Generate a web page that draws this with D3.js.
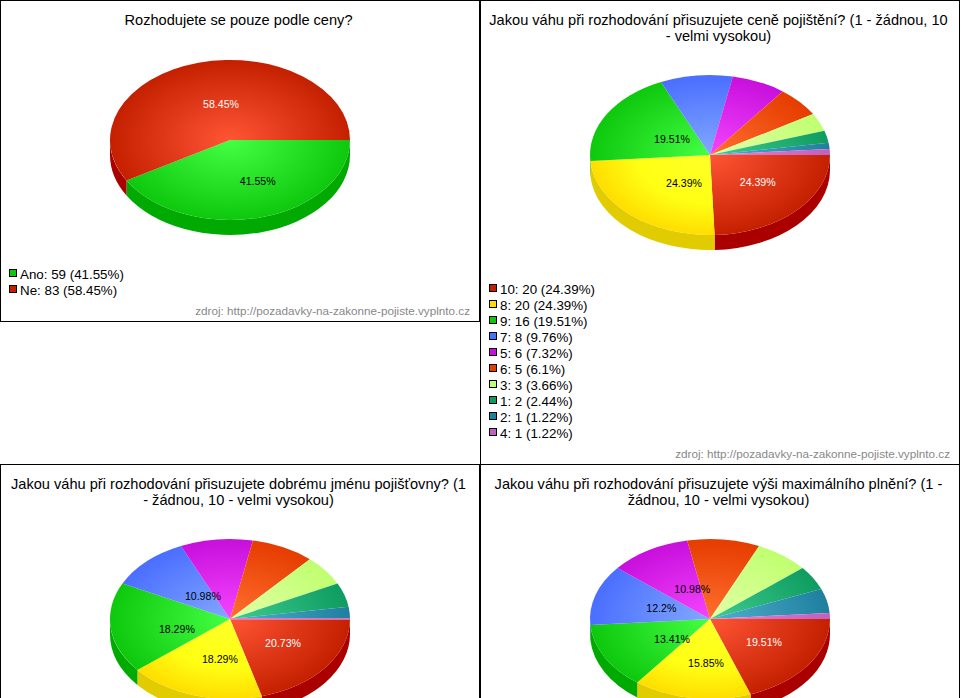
<!DOCTYPE html>
<html><head><meta charset="utf-8">
<script src="https://cdnjs.cloudflare.com/ajax/libs/d3/7.8.5/d3.min.js"></script>
<style>html,body{margin:0;padding:0;background:#fff;overflow:hidden}svg{display:block}
text{font-family:"Liberation Sans",Arial,sans-serif}</style></head><body>
<script>
const titles = [
  ["Rozhodujete se pouze podle ceny?"],
  ["Jakou váhu při rozhodování přisuzujete ceně pojištění? (1 - žádnou, 10", "- velmi vysokou)"],
  ["Jakou váhu při rozhodování přisuzujete dobrému jménu pojišťovny? (1", "- žádnou, 10 - velmi vysokou)"],
  ["Jakou váhu při rozhodování přisuzujete výši maximálního plnění? (1 -", "žádnou, 10 - velmi vysokou)"]
];
const binaryCategories = ["Ano", "Ne"];
const binaryValues = [59, 83];
const priceCategories = ["10", "8", "9", "7", "5", "6", "3", "1", "2", "4"];
const priceValues = [20, 20, 16, 8, 6, 5, 3, 2, 1, 1];
const reputationValues = [17, 15, 15, 9, 8, 7, 5, 4, 2, 0];
const maximumValues = [16, 13, 11, 10, 9, 8, 6, 4, 4, 1];
const sourceText = "zdroj: http://pozadavky-na-zakonne-pojiste.vyplnto.cz";

const scalePalette = [
  ["#ff5535", "#c42000", "#aa0000"], ["#ffff28", "#ffdd00", "#e0cc00"], ["#44ff44", "#0ec80e", "#00aa00"],
  ["#82a8ff", "#4a6eff", "#3050cc"], ["#f545ff", "#c80fdc", "#9000aa"], ["#ff7030", "#e63c00", "#b03000"],
  ["#e2ffa8", "#c0ff70", "#90cc50"], ["#40cc90", "#0e9c60", "#007040"], ["#50b0cc", "#1f7f9f", "#106080"],
  ["#f080d0", "#c060c0", "#904090"]
];
const binaryPalette = [scalePalette[2], scalePalette[0]];

const W = 962, H = 698, RX = 120, RY = 80, DEPTH = 15;
const svg = d3.select("body").append("svg").attr("width", W).attr("height", H);
const defs = svg.append("defs");
const pct = v => String(+v.toFixed(2)) + "%";

// fine adjustments of value labels relative to their polar position
const labelNudges = [
  [[14.6, 2.9], [4.1, 2.6]],
  [[11.7, -0.6], [7.3, -0.9], [5, 5]],
  [[13.3, 0.3], [5, 2.4], [-3.5, 5.9], [7.5, 6.8]],
  [[13.1, 0], [3.7, 4.5], [5.9, 0.9], [-1, 2], [7.8, 5.3]]
];
const panels = [
  {x: 0, y: 0, w: 480, h: 322, cy: 140, values: binaryValues, cats: binaryCategories, pal: binaryPalette, legendY: 274},
  {x: 480, y: 0, w: 480, h: 465, cy: 155, values: priceValues, cats: priceCategories, pal: scalePalette, legendY: 289},
  {x: 0, y: 464, w: 480, h: 400, cy: 155, values: reputationValues, pal: scalePalette},
  {x: 480, y: 464, w: 480, h: 400, cy: 155, values: maximumValues, pal: scalePalette}
];
const pie = d3.pie().sort(null).startAngle(Math.PI / 2).endAngle(Math.PI * 2.5);
const arc = d3.arc().innerRadius(0).outerRadius(RX);
const sx = d3.scaleLinear().domain([-1, 1]).range([-RX, RX]);
const sy = d3.scaleLinear().domain([-1, 1]).range([-RY, RY]);

panels.forEach((p, pi) => {
  const g = svg.append("g").attr("transform", `translate(${p.x},${p.y})`);
  g.append("rect").attr("x", .5).attr("y", .5).attr("width", p.w - 1).attr("height", p.h - 1)
    .attr("fill", "#fff").attr("stroke", "#000");
  titles[pi].forEach((t, i) => g.append("text").attr("x", 238.5).attr("y", 25 + i * 16)
    .attr("text-anchor", "middle").attr("font-size", 14.6).attr("fill", "#000").text(t));
  const cx = 230, total = d3.sum(p.values);
  const arcs = pie(p.values);
  const pieG = g.append("g").attr("transform", `translate(${cx},${p.cy})`);
  // side wall: front half only (screen angles 0..pi)
  arcs.forEach((d, i) => {
    const a0 = Math.max(d.startAngle - Math.PI / 2, 0), a1 = Math.min(d.endAngle - Math.PI / 2, Math.PI);
    if (a1 <= a0) return;
    const x0 = sx(Math.cos(a0)), y0 = sy(Math.sin(a0)), x1 = sx(Math.cos(a1)), y1 = sy(Math.sin(a1));
    pieG.append("path").attr("fill", p.pal[i][2])
      .attr("d", `M${x0},${y0}A${RX},${RY} 0 0 1 ${x1},${y1}L${x1},${y1 + DEPTH}A${RX},${RY} 0 0 0 ${x0},${y0 + DEPTH}Z`);
  });
  const top = pieG.append("g").attr("transform", `scale(1,${RY / RX})`);
  arcs.forEach((d, i) => {
    const id = `g${pi}_${i}`;
    const gr = defs.append("radialGradient").attr("id", id).attr("gradientUnits", "userSpaceOnUse")
      .attr("cx", 0).attr("cy", 0).attr("r", RX);
    gr.append("stop").attr("offset", 0).attr("stop-color", p.pal[i][0]);
    if (p.pal[i][0] === "#ffff28") gr.append("stop").attr("offset", 0.6).attr("stop-color", "#ffff14");
    gr.append("stop").attr("offset", 1).attr("stop-color", p.pal[i][1]);
    const path = top.append("path").attr("d", arc(d)).attr("fill", `url(#${id})`);
    if (d.value === 0) path.attr("stroke", p.pal[i][0]).attr("stroke-width", 1).attr("vector-effect", "non-scaling-stroke");
  });
  // value labels
  let n = 0;
  arcs.forEach((d, i) => {
    const share = d.value / total * 100;
    if (share < 10) return;
    const mid = (d.startAngle + d.endAngle) / 2 - Math.PI / 2;
    const off = labelNudges[pi][n++];
    pieG.append("text").attr("x", 50 * Math.cos(mid) + off[0]).attr("y", 40 * Math.sin(mid) + off[1] + 3.5)
      .attr("text-anchor", "middle").attr("font-size", 10.6)
      .attr("fill", i === (pi === 0 ? 1 : 0) ? "#fff" : "#000").text(pct(share));
  });
  // legend
  if (p.cats) {
    p.cats.forEach((c, i) => {
      const y = p.legendY + i * 16;
      g.append("rect").attr("x", 9.5).attr("y", y - 4.5).attr("width", 7).attr("height", 7)
        .attr("fill", p.pal[i][1]).attr("stroke", "#000");
      g.append("text").attr("x", 20).attr("y", y + 4.5).attr("font-size", 13.35).attr("fill", "#000")
        .text(`${c}: ${p.values[i]} (${pct(p.values[i] / total * 100)})`);
    });
    g.append("text").attr("x", 470).attr("y", p.h - 7).attr("text-anchor", "end")
      .attr("font-size", 11.7).attr("fill", "#888").text(sourceText);
  }
});
</script></body></html>
